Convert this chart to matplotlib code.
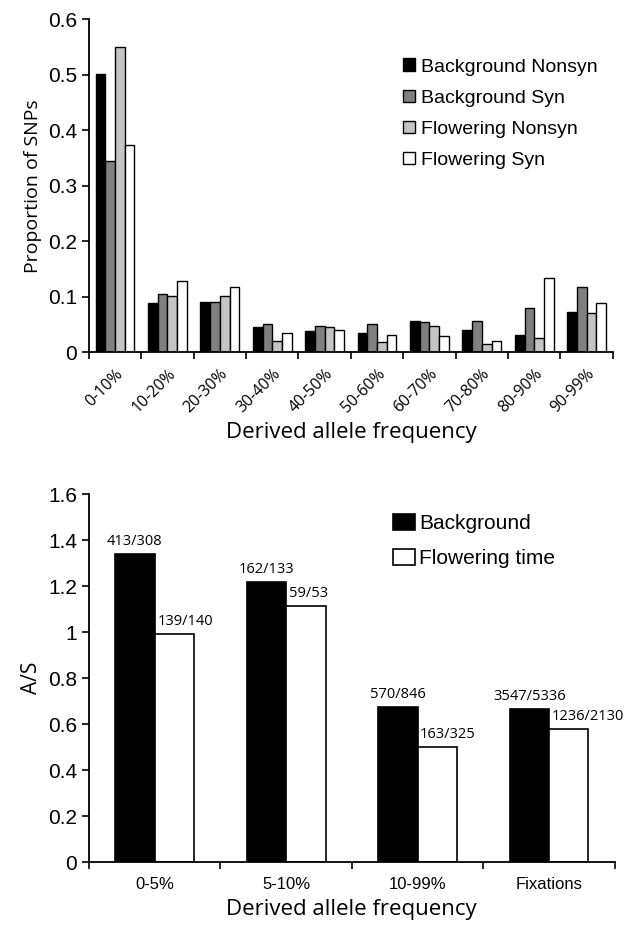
import matplotlib
matplotlib.use("Agg")
import matplotlib.pyplot as plt
import numpy as np

# top panel: site frequency spectrum
sfs_bins = ["0-10%", "10-20%", "20-30%", "30-40%", "40-50%",
            "50-60%", "60-70%", "70-80%", "80-90%", "90-99%"]
bg_nonsyn = [0.501, 0.088, 0.091, 0.046, 0.038, 0.035, 0.057, 0.040, 0.032, 0.072]
bg_syn = [0.344, 0.105, 0.091, 0.051, 0.048, 0.051, 0.054, 0.057, 0.080, 0.118]
fl_nonsyn = [0.550, 0.102, 0.102, 0.021, 0.046, 0.018, 0.048, 0.015, 0.026, 0.070]
fl_syn = [0.373, 0.129, 0.118, 0.035, 0.040, 0.032, 0.029, 0.021, 0.134, 0.088]
sfs_names = ["Background Nonsyn", "Background Syn", "Flowering Nonsyn", "Flowering Syn"]

# bottom panel: A/S ratios
as_bins = ["0-5%", "5-10%", "10-99%", "Fixations"]
as_background = [1.341, 1.218, 0.674, 0.665]
as_flowering = [0.993, 1.113, 0.502, 0.580]
bg_counts = ["413/308", "162/133", "570/846", "3547/5336"]
fl_counts = ["139/140", "59/53", "163/325", "1236/2130"]

ARIAL = "Liberation Sans"
HUMAN = "Open Sans"

fig = plt.figure(figsize=(6.26, 9.27), dpi=100)

# ---------------- top ----------------
ax1 = fig.add_axes([0.142, 0.620, 0.837, 0.359])
x = np.arange(len(sfs_bins))
w = 0.185
colors = ["black", "#808080", "#c4c4c4", "white"]
series = [bg_nonsyn, bg_syn, fl_nonsyn, fl_syn]
for i, (vals, c, name) in enumerate(zip(series, colors, sfs_names)):
    ax1.bar(x + (i - 1.5) * w, vals, w, color=c, edgecolor="black", linewidth=1.0, label=name)

ax1.set_xlim(-0.5, len(sfs_bins) - 0.5)
ax1.set_ylim(0, 0.6)
ax1.set_yticks(np.arange(0, 0.61, 0.1))
ax1.set_yticklabels(["0", "0.1", "0.2", "0.3", "0.4", "0.5", "0.6"], fontfamily=ARIAL, fontsize=15)
ax1.set_xticks(np.arange(-0.5, len(sfs_bins), 1.0))
ax1.set_xticklabels([])
ax1.set_xticks(x, minor=True)
ax1.set_xticklabels(sfs_bins, minor=True, rotation=45, ha="right", va="top",
                    rotation_mode="anchor", fontfamily=HUMAN, fontsize=11.5)
ax1.tick_params(axis="x", which="minor", length=0, pad=10)
ax1.tick_params(axis="both", which="major", direction="out", length=5, width=1.2)
for s in ["top", "right"]:
    ax1.spines[s].set_visible(False)
for s in ["left", "bottom"]:
    ax1.spines[s].set_linewidth(1.3)
ax1.set_ylabel("Proportion of SNPs", fontfamily=HUMAN, fontsize=14, labelpad=4)
ax1.set_xlabel("Derived allele frequency", fontfamily=HUMAN, fontsize=16, labelpad=4)
ax1.legend(loc="upper left", bbox_to_anchor=(0.643, 0.937), bbox_transform=fig.transFigure,
           frameon=False, prop={"family": ARIAL, "size": 14}, handlelength=0.62,
           handleheight=0.62, handletextpad=0.32, labelspacing=0.72, borderpad=0,
           borderaxespad=0)

# ---------------- bottom ----------------
ax2 = fig.add_axes([0.142, 0.070, 0.840, 0.397])
x2 = np.arange(len(as_bins))
bw = 0.3
ax2.bar(x2 - bw / 2, as_background, bw, color="black", edgecolor="black", linewidth=1.2,
        label="Background")
ax2.bar(x2 + bw / 2, as_flowering, bw, color="white", edgecolor="black", linewidth=1.2,
        label="Flowering time")
for xi, v, t in zip(x2, as_background, bg_counts):
    ax2.text(xi - bw / 2, v + 0.022, t, ha="center", va="bottom", fontfamily=HUMAN, fontsize=10.5)
for xi, v, t in zip(x2, as_flowering, fl_counts):
    ax2.text(xi + 0.02, v + 0.022, t, ha="left", va="bottom", fontfamily=HUMAN, fontsize=10.5)

ax2.set_xlim(-0.5, len(as_bins) - 0.5)
ax2.set_ylim(0, 1.6)
yt = np.arange(0, 1.61, 0.2)
ax2.set_yticks(yt)
ax2.set_yticklabels(["0", "0.2", "0.4", "0.6", "0.8", "1", "1.2", "1.4", "1.6"],
                    fontfamily=ARIAL, fontsize=15)
ax2.set_xticks(np.arange(-0.5, len(as_bins), 1.0))
ax2.set_xticklabels([])
ax2.set_xticks(x2, minor=True)
ax2.set_xticklabels(as_bins, minor=True, fontfamily=ARIAL, fontsize=12)
ax2.tick_params(axis="x", which="minor", length=0, pad=11)
ax2.tick_params(axis="both", which="major", direction="out", length=5, width=1.2)
for s in ["top", "right"]:
    ax2.spines[s].set_visible(False)
for s in ["left", "bottom"]:
    ax2.spines[s].set_linewidth(1.3)
ax2.set_ylabel("A/S", fontfamily=HUMAN, fontsize=15, labelpad=4)
ax2.set_xlabel("Derived allele frequency", fontfamily=HUMAN, fontsize=16, labelpad=5)
ax2.legend(loc="upper left", bbox_to_anchor=(0.628, 0.446), bbox_transform=fig.transFigure,
           frameon=False, prop={"family": ARIAL, "size": 15}, handlelength=1.05,
           handleheight=0.85, handletextpad=0.2, labelspacing=0.75, borderpad=0,
           borderaxespad=0)

fig.savefig("out.png", dpi=100)
